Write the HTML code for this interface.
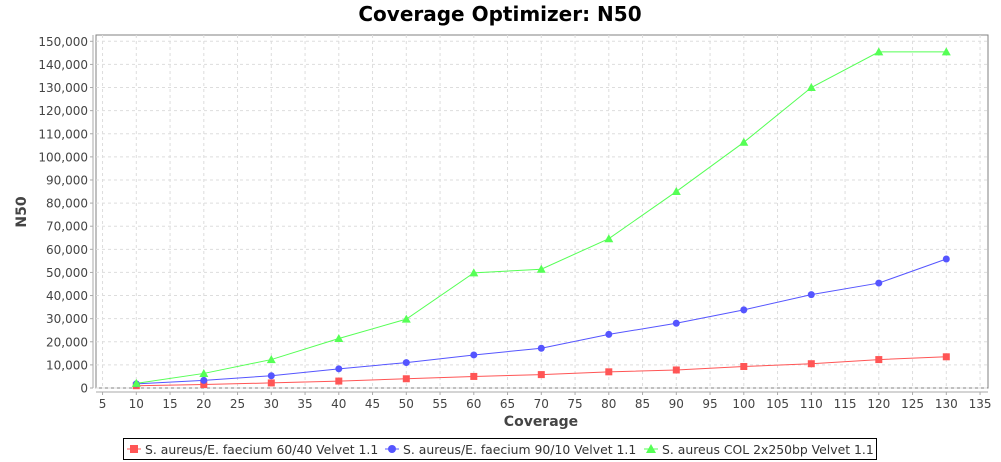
<!DOCTYPE html><html><head><style>body{margin:0;background:#fff}svg{display:block;font-family:"DejaVu Sans","Liberation Sans",sans-serif}</style></head><body>
<svg width="1001" height="462" xmlns="http://www.w3.org/2000/svg">
<text x="500" y="21" text-anchor="middle" font-size="20" font-weight="bold" fill="#000">Coverage Optimizer: N50</text>
<rect x="96" y="35" width="892" height="353" fill="#fff" stroke="#808080"/>
<g id="grid" stroke="#ddd" stroke-dasharray="3,3" stroke-width="1"></g>
<line x1="93" y1="35" x2="93" y2="388" stroke="#aaa"/>
<line x1="96" y1="392" x2="988" y2="392" stroke="#aaa"/>
<g id="yl" font-size="12" fill="#444" text-anchor="end"></g>
<g id="xl" font-size="12" fill="#444" text-anchor="middle"></g>
<text x="541" y="426" text-anchor="middle" font-size="14" font-weight="bold" fill="#444">Coverage</text>
<text transform="translate(26,212) rotate(-90)" text-anchor="middle" font-size="14" font-weight="bold" fill="#444">N50</text>
<g id="series"></g>
<rect x="123.5" y="438.5" width="753" height="21" fill="#fff" stroke="#000"/>
<g font-size="12.4" fill="#333">
<line x1="127" y1="449" x2="141" y2="449" stroke="#f55"/><rect x="130" y="445" width="8" height="8" fill="#f55"/>
<text x="145" y="454">S. aureus/E. faecium 60/40 Velvet 1.1</text>
<line x1="385" y1="449" x2="399" y2="449" stroke="#55f"/><circle cx="392" cy="449" r="4" fill="#55f"/>
<text x="403" y="454">S. aureus/E. faecium 90/10 Velvet 1.1</text>
<line x1="644" y1="449" x2="658" y2="449" stroke="#5f5"/><polygon points="651,444 656,453 646,453" fill="#5f5"/>
<text x="662" y="454">S. aureus COL 2x250bp Velvet 1.1</text>
</g>
</svg>
<script>
const ns="http://www.w3.org/2000/svg";
const X=v=>136.3+(v-10)*6.75, Y=v=>388-v*0.0023113;
function el(p,t,a,txt){const e=document.createElementNS(ns,t);for(const k in a)e.setAttribute(k,a[k]);if(txt!=null)e.textContent=txt;document.getElementById(p).appendChild(e);return e;}
for(let v=0;v<=150000;v+=10000){const y=Y(v);el('grid','line',{x1:96,x2:988,y1:y,y2:y});el('yl','text',{x:88,y:y+4.5},v.toLocaleString('en-US'));el('series','line',{x1:90,x2:93,y1:y,y2:y,stroke:'#aaa'});}
for(let v=5;v<=135;v+=5){const x=X(v);el('grid','line',{x1:x,x2:x,y1:35,y2:388});el('xl','text',{x:x,y:408},v);el('series','line',{x1:x,x2:x,y1:392,y2:395,stroke:'#aaa'});}
const xs=[10,20,30,40,50,60,70,80,90,100,110,120,130];
const S=[
['#f55','sq',[1000,1500,2200,3000,4000,5000,5800,7000,7800,9300,10500,12300,13500]],
['#55f','c',[1800,3300,5300,8300,11000,14300,17200,23200,28000,33800,40400,45400,55800]],
['#5f5','t',[2000,6300,12300,21400,29800,49800,51400,64600,85000,106300,130000,145400,145400]]];
for(const [c,m,d] of S){
 el('series','polyline',{points:xs.map((x,i)=>X(x)+','+Y(d[i])).join(' '),fill:'none',stroke:c,'stroke-width':1});
 xs.forEach((x,i)=>{const px=X(x),py=Y(d[i]);
  if(m=='sq')el('series','rect',{x:px-3.5,y:py-3.5,width:7,height:7,fill:c});
  else if(m=='c')el('series','circle',{cx:px,cy:py,r:3.5,fill:c});
  else el('series','polygon',{points:`${px},${py-4.5} ${px+4.5},${py+3.5} ${px-4.5},${py+3.5}`,fill:c});});
}
</script>
</body></html>
